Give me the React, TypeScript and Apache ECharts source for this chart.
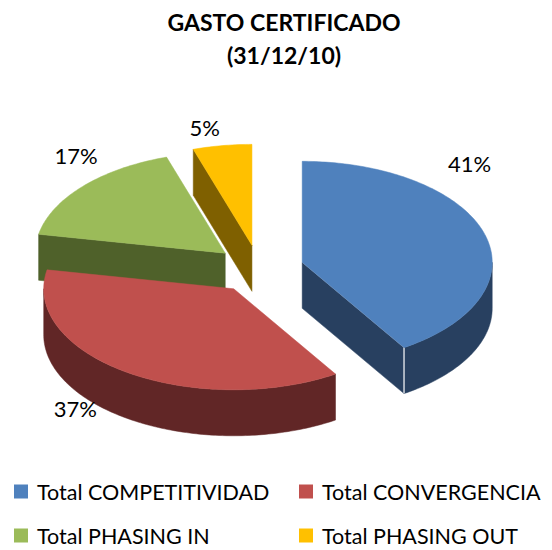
import React, { useEffect, useRef } from "react";
import * as echarts from "echarts";

const categories = [
  "Total COMPETITIVIDAD",
  "Total CONVERGENCIA",
  "Total PHASING IN",
  "Total PHASING OUT",
];
const values = [41, 37, 17, 5];
const titleLines = ["GASTO CERTIFICADO", "(31/12/10)"];

const topColors = ["#4F81BD", "#C0504D", "#9BBB59", "#FFC000"];
const sideColors = ["#284060", "#612626", "#4F612A", "#7F6000"];
const sliceZ = [3, 4, 2, 1];
const labelAngles = [42, 215, 321, 348];
const labelRadius = [250, 276, 237, 227];
const legendLeft = [14, 299, 14, 299];
const legendTop = [480, 480, 524, 524];

const CX = 259;
const CY = 269;
const RX = 190;
const RY = 101;
const DEPTH = 46;
const EXPLODE = 45;
const FONT = "Lato, 'Open Sans', sans-serif";

const rad = (d: number) => (d * Math.PI) / 180;

function makeRenderItem(i: number) {
  return function (_params: any, _api: any) {
    const total = values.reduce((a, b) => a + b, 0);
    const before = values.slice(0, i).reduce((a, b) => a + b, 0);
    const a0 = (before / total) * 360;
    const a1 = ((before + values[i]) / total) * 360;
    const m = (a0 + a1) / 2;
    const k = RY / RX;
    const ox = CX + EXPLODE * Math.sin(rad(m));
    const oy = CY - EXPLODE * Math.cos(rad(m)) * k;
    const pt = (th: number, r: number, dz: number) => [
      ox + r * Math.sin(rad(th)),
      oy - r * Math.cos(rad(th)) * k + dz,
    ];
    const arc = (t0: number, t1: number, dz: number) => {
      const pts: number[][] = [];
      const n = Math.max(2, Math.ceil((t1 - t0) / 1));
      for (let j = 0; j <= n; j++) pts.push(pt(t0 + ((t1 - t0) * j) / n, RX, dz));
      return pts;
    };
    const children: any[] = [];
    const side = sideColors[i];
    const lo = Math.max(a0, 90);
    const hi = Math.min(a1, 270);
    if (lo < hi) {
      const pts = arc(lo, hi, 0).concat(arc(lo, hi, DEPTH).reverse());
      children.push({
        type: "polygon",
        shape: { points: pts },
        style: { fill: side, stroke: side, lineWidth: 0.5 },
      });
    }
    const c0 = [ox, oy];
    const c1 = [ox, oy + DEPTH];
    if (a0 > 180 && a0 < 360) {
      children.push({
        type: "polygon",
        shape: { points: [c0, pt(a0, RX, 0), pt(a0, RX, DEPTH), c1] },
        style: { fill: side, stroke: side, lineWidth: 0.5 },
      });
      if (a0 < 270) {
        const p = pt(a0, RX, 0);
        const q = pt(a0, RX, DEPTH);
        children.push({
          type: "line",
          shape: { x1: p[0], y1: p[1], x2: q[0], y2: q[1] },
          style: { stroke: "#ffffff", lineWidth: 1.2 },
        });
      }
    }
    if (a1 > 0 && a1 < 180) {
      children.push({
        type: "polygon",
        shape: { points: [c0, pt(a1, RX, 0), pt(a1, RX, DEPTH), c1] },
        style: { fill: side, stroke: side, lineWidth: 0.5 },
      });
      if (a1 > 90) {
        const p = pt(a1, RX, 0);
        const q = pt(a1, RX, DEPTH);
        children.push({
          type: "line",
          shape: { x1: p[0], y1: p[1], x2: q[0], y2: q[1] },
          style: { stroke: "#ffffff", lineWidth: 1.2 },
        });
        children.push({
          type: "line",
          shape: { x1: c0[0], y1: c0[1], x2: p[0], y2: p[1] },
          style: { stroke: "#ffffff", lineWidth: 0.6, opacity: 0.6 },
        });
      }
    }
    children.push({
      type: "polygon",
      shape: { points: [c0].concat(arc(a0, a1, 0)) },
      style: { fill: topColors[i], stroke: topColors[i], lineWidth: 0.5 },
    });
    const la = labelAngles[i];
    const lr = labelRadius[i];
    const pct = Math.round((values[i] / total) * 100);
    children.push({
      type: "text",
      x: ox + lr * Math.sin(rad(la)),
      y: oy - lr * Math.cos(rad(la)) * k,
      style: {
        text: pct + "%",
        fill: "#000000",
        font: "22px " + FONT,
        align: "center",
        verticalAlign: "middle",
      },
    });
    return { type: "group", children };
  };
}

export default function App() {
  const ref = useRef<HTMLDivElement>(null);
  useEffect(() => {
    document.body.style.margin = "0";
    if (!ref.current) return;
    const chart = echarts.init(ref.current, undefined, { renderer: "svg" });
    chart.setOption({
      animation: false,
      backgroundColor: "#ffffff",
      title: {
        text: titleLines.join("\n"),
        left: 284,
        textAlign: "center",
        top: 5,
        padding: 0,
        textStyle: {
          fontFamily: FONT,
          fontSize: 23,
          fontWeight: "bold",
          color: "#000000",
          lineHeight: 33,
        },
      },
      legend: categories.map((name, i) => ({
        left: legendLeft[i],
        top: legendTop[i],
        padding: 0,
        itemWidth: 14,
        itemHeight: 14,
        icon: "rect",
        selectedMode: false,
        data: [name],
        textStyle: {
          fontSize: 21.5,
          fontFamily: FONT,
          color: "#000000",
          lineHeight: 23,
          padding: [0, 0, 0, 4],
        },
      })),
      series: categories.map((name, i) => ({
        type: "custom",
        name,
        coordinateSystem: "none",
        z: sliceZ[i],
        itemStyle: { color: topColors[i] },
        data: [values[i]],
        renderItem: makeRenderItem(i),
      })),
    });
    return () => chart.dispose();
  }, []);
  return <div ref={ref} style={{ width: 552, height: 550 }} />;
}
